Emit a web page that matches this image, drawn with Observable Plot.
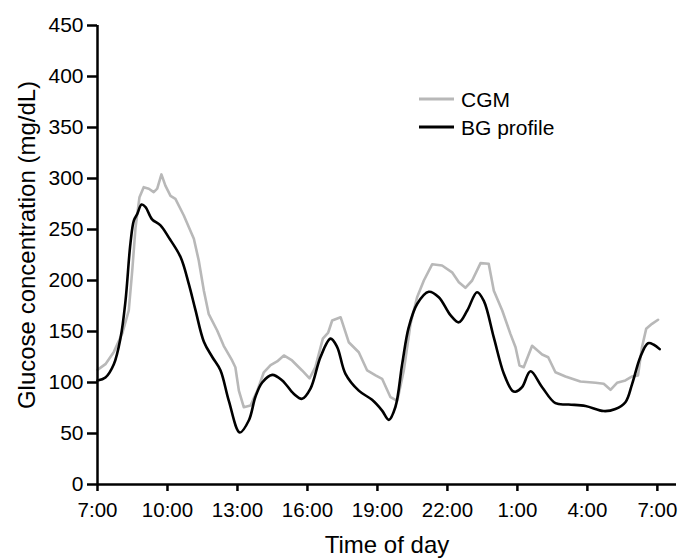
<!DOCTYPE html>
<html>
<head>
<meta charset="utf-8">
<script src="https://cdn.jsdelivr.net/npm/d3@7"></script>
<script src="https://cdn.jsdelivr.net/npm/@observablehq/plot@0.6"></script>
<style>
  html, body { margin: 0; padding: 0; background: #fff; }
  #chart svg { display: block; }
</style>
</head>
<body>
<div id="chart"></div>
<script>
// Hours since 7:00
const cgmHours = [0,0.34,0.7,1.06,1.34,1.49,1.63,1.8,1.98,2.2,2.41,2.56,2.74,2.91,3.13,3.34,3.7,4.13,4.34,4.56,4.77,5.13,5.41,5.77,5.91,6.06,6.27,6.56,6.85,7.13,7.42,7.7,7.99,8.34,8.77,9.09,9.34,9.66,9.89,10.06,10.42,10.77,11.2,11.56,11.92,12.2,12.56,12.85,13.13,13.42,13.7,13.99,14.35,14.77,15.2,15.49,15.77,16.06,16.42,16.77,16.99,17.35,17.7,17.92,18.09,18.27,18.63,19.06,19.32,19.63,20.06,20.7,21.35,21.7,21.99,22.27,22.63,22.92,23.17,23.34,23.52,23.77,24.03];
const cgmValues = [112.4,118,130,148,170.6,210,252,281.7,291.5,290,286.6,290,304,293,283,280,263.7,241,219.6,190,167,151,136,121.6,115,92,75.8,77.5,92,110,117,120.6,126.5,121.6,111.8,104,115,143,149,160.8,164,139.5,129.7,111.8,107,103.6,85.6,82,111.8,157.5,183.6,200,216,214.7,208,198.3,192.8,200,217,216.4,190,170.6,147.7,134.6,116.7,115,136,127.5,124.8,110,105.9,101,99.7,98.7,92.8,99.7,102,105.9,107,134.6,152.6,157.5,161.5];

const bgHours = [0,0.34,0.7,0.99,1.2,1.41,1.56,1.7,1.89,2.06,2.34,2.7,3.06,3.56,3.91,4.2,4.56,4.92,5.27,5.63,6.1,6.49,6.77,7.06,7.49,7.92,8.41,8.77,9.13,9.56,9.99,10.27,10.63,11.2,11.77,12.2,12.49,12.77,13.06,13.34,13.7,14.2,14.63,15.13,15.49,15.85,16.27,16.56,16.99,17.42,17.78,17.92,18.2,18.56,19.06,19.63,20.2,20.92,21.7,22.2,22.63,22.92,23.27,23.6,23.85,24.1];
const bgValues = [102,105,118,144,180,236,259,265,274.5,272,260,254,242,223,197,171,140,125,112,82,51,63,86,100,107.5,102,89,84,94,125,143,135,108.5,92,83,72.5,63.4,76,118,154,177,189,183.6,166,159,170.6,188.5,180,144,108.5,92,91,95.4,111,95.4,79.7,78.4,77,72,74,80.7,98.7,125,138.5,137,132.7];

const seriesNames = ["CGM", "BG profile"];
const seriesColors = ["#b8b8b8", "#000000"];
const xTickHours = [0,3,6,9,12,15,18,21,24];
const xTickLabels = ["7:00","10:00","13:00","16:00","19:00","22:00","1:00","4:00","7:00"];
const yTicks = [0,50,100,150,200,250,300,350,400,450];
const xTitle = "Time of day";
const yTitle = "Glucose concentration (mg/dL)";

const cgm = cgmHours.map((h, i) => ({h, v: cgmValues[i]}));
const bg = bgHours.map((h, i) => ({h, v: bgValues[i]}));
const labelOf = new Map(xTickHours.map((h, i) => [h, xTickLabels[i]]));

const font = "'Liberation Sans', Arial, Helvetica, sans-serif";

const plot = Plot.plot({
  width: 678,
  height: 558,
  marginLeft: 97,
  marginRight: 2,
  marginTop: 25,
  marginBottom: 74,
  style: {fontFamily: font, background: "#fff", color: "#000"},
  x: {domain: [0, 24.82]},
  y: {domain: [0, 450]},
  marks: [
    Plot.line(cgm, {x: "h", y: "v", stroke: seriesColors[0], strokeWidth: 2.6, curve: "linear"}),
    Plot.line(bg, {x: "h", y: "v", stroke: seriesColors[1], strokeWidth: 2.6, curve: "catmull-rom"}),
    Plot.axisY({ticks: yTicks, tickSize: 10, tickPadding: 4, fontSize: 21, strokeWidth: 2.5, label: null, color: "#000"}),
    Plot.axisX({ticks: xTickHours, tickFormat: d => labelOf.get(d), tickSize: 7, tickPadding: 11, fontSize: 20.5, strokeWidth: 2.5, label: null, color: "#000"}),
    Plot.ruleX([0], {y1: 0, y2: 450, stroke: "#000", strokeWidth: 2.5}),
    Plot.ruleY([0], {stroke: "#000", strokeWidth: 2.5})
  ]
});

document.getElementById("chart").appendChild(plot);

const svg = d3.select(plot);
// Axis titles
svg.append("text")
  .attr("transform", "translate(35,245) rotate(-90)")
  .attr("text-anchor", "middle")
  .attr("font-family", font)
  .attr("font-size", 24)
  .attr("fill", "#000")
  .text(yTitle);
svg.append("text")
  .attr("x", 387)
  .attr("y", 553)
  .attr("text-anchor", "middle")
  .attr("font-family", font)
  .attr("font-size", 24)
  .attr("fill", "#000")
  .text(xTitle);

// Legend
const lg = svg.append("g").attr("font-family", font).attr("font-size", 21).attr("text-anchor", "start");
seriesNames.forEach((name, i) => {
  const y = 99 + i * 28;
  lg.append("line").attr("x1", 419).attr("x2", 454).attr("y1", y).attr("y2", y)
    .attr("stroke", seriesColors[i]).attr("stroke-width", 3);
  lg.append("text").attr("x", 461).attr("y", y + 8).attr("text-anchor", "start").attr("fill", "#000").text(name);
});
</script>
</body>
</html>
